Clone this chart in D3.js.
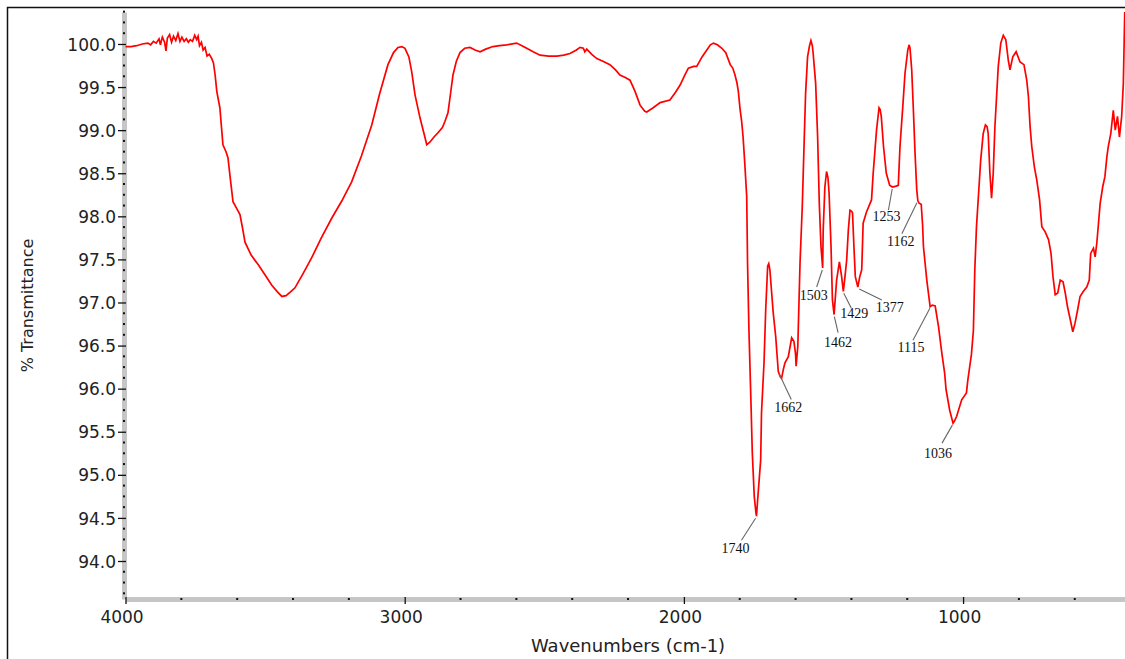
<!DOCTYPE html>
<html>
<head>
<meta charset="utf-8">
<script src="https://cdn.jsdelivr.net/npm/d3@7"></script>
<style>
  html, body { margin: 0; padding: 0; background: #fff; overflow: hidden; }
  svg { display: block; }
  .tick-label { font-family: "DejaVu Sans", sans-serif; font-size: 17px; fill: #222; }
  .axis-title { font-family: "DejaVu Sans", sans-serif; fill: #222; }
  .peak-label { font-family: "Liberation Serif", serif; font-size: 14px; fill: #111; }
</style>
</head>
<body>
<div id="chart"></div>
<script>

// spectrum (cm-1 , %T)
const wavenumbers = [
  4000, 3980, 3960, 3940, 3920, 3910, 3900, 3890, 3880, 3875, 3868, 3860, 3855, 3850, 3842, 3835,
  3828, 3820, 3812, 3805, 3798, 3790, 3782, 3775, 3768, 3760, 3752, 3745, 3740, 3735, 3728, 3722,
  3715, 3708, 3700, 3691, 3685, 3679, 3673, 3662, 3651, 3640, 3633, 3625, 3615, 3600, 3590, 3580,
  3572, 3550, 3525, 3500, 3476, 3455, 3440, 3425, 3410, 3393, 3365, 3333, 3300, 3261, 3225, 3190,
  3155, 3118, 3090, 3060, 3040, 3024, 3010, 2999, 2985, 2975, 2963, 2945, 2930, 2921, 2910, 2895,
  2881, 2865, 2856, 2845, 2838, 2827, 2815, 2802, 2785, 2766, 2748, 2730, 2710, 2684, 2660, 2635,
  2599, 2580, 2563, 2540, 2515, 2485, 2455, 2430, 2408, 2385, 2372, 2360, 2355, 2348, 2330, 2312,
  2290, 2265, 2245, 2229, 2210, 2193, 2175, 2157, 2140, 2133, 2110, 2085, 2050, 2030, 2014, 1995,
  1984, 1965, 1954, 1935, 1918, 1905, 1894, 1880, 1864, 1850, 1834, 1825, 1817, 1810, 1805, 1799,
  1793, 1788, 1782, 1775, 1772, 1767, 1760, 1755, 1748, 1742, 1740, 1736, 1733, 1725, 1722, 1713,
  1707, 1700, 1696, 1692, 1680, 1671, 1662, 1655, 1650, 1644, 1638, 1626, 1614, 1606, 1600, 1598,
  1592, 1584, 1576, 1569, 1564, 1557, 1550, 1545, 1540, 1537, 1528, 1521, 1515, 1509, 1503, 1501,
  1495, 1489, 1484, 1480, 1473, 1468, 1462, 1460, 1453, 1443, 1435, 1429, 1423, 1417, 1411, 1405,
  1400, 1396, 1391, 1386, 1377, 1370, 1363, 1358, 1346, 1328, 1322, 1310, 1301, 1297, 1293, 1285,
  1275, 1263, 1253, 1240, 1232, 1226, 1216, 1208, 1198, 1193, 1190, 1184, 1178, 1172, 1166, 1162,
  1157, 1150, 1145, 1142, 1130, 1118, 1110, 1100, 1088, 1076, 1066, 1061, 1048, 1036, 1030, 1023,
  1005, 988, 983, 970, 963, 958, 952, 943, 937, 928, 920, 914, 910, 904, 898, 892,
  886, 880, 874, 865, 856, 847, 838, 832, 822, 810, 796, 782, 772, 766, 760, 754,
  745, 736, 726, 718, 706, 694, 685, 678, 670, 661, 652, 642, 634, 626, 616, 607,
  599, 590, 581, 569, 557, 548, 543, 533, 527, 521, 515, 509, 500, 492, 485, 480,
  471, 462, 455, 447, 440, 432, 426, 422, 421
];

const transmittance = [
  99.97, 99.97, 99.98, 100.00, 100.01, 99.99, 100.03, 100.01, 100.06, 99.99, 100.08, 100.02, 99.92, 100.07, 100.11, 100.02,
  100.09, 100.04, 100.12, 100.03, 100.08, 100.03, 100.06, 100.02, 100.05, 100.03, 100.10, 100.05, 100.09, 99.98, 100.02, 99.93,
  99.96, 99.86, 99.88, 99.83, 99.78, 99.64, 99.45, 99.26, 98.83, 98.75, 98.68, 98.45, 98.17, 98.08, 98.02, 97.85,
  97.70, 97.55, 97.44, 97.32, 97.20, 97.12, 97.07, 97.08, 97.12, 97.17, 97.33, 97.52, 97.74, 97.98, 98.18, 98.40,
  98.70, 99.06, 99.42, 99.76, 99.90, 99.96, 99.97, 99.95, 99.85, 99.68, 99.41, 99.14, 98.95, 98.83, 98.86, 98.92,
  98.97, 99.03, 99.10, 99.20, 99.37, 99.64, 99.80, 99.90, 99.95, 99.96, 99.93, 99.91, 99.94, 99.97, 99.98, 99.99,
  100.01, 99.98, 99.95, 99.91, 99.87, 99.86, 99.86, 99.87, 99.89, 99.93, 99.96, 99.95, 99.91, 99.94, 99.88, 99.83,
  99.80, 99.76, 99.70, 99.64, 99.61, 99.58, 99.45, 99.29, 99.22, 99.21, 99.26, 99.32, 99.35, 99.44, 99.52, 99.65,
  99.72, 99.74, 99.74, 99.85, 99.93, 99.99, 100.01, 99.99, 99.95, 99.90, 99.76, 99.72, 99.64, 99.55, 99.45, 99.25,
  99.10, 98.92, 98.62, 98.23, 97.46, 96.68, 95.87, 95.26, 94.75, 94.56, 94.52, 94.70, 94.83, 95.17, 95.72, 96.30,
  96.91, 97.42, 97.45, 97.38, 96.88, 96.60, 96.20, 96.14, 96.12, 96.22, 96.30, 96.37, 96.59, 96.55, 96.40, 96.26,
  96.49, 97.46, 98.11, 98.89, 99.43, 99.85, 99.98, 100.04, 99.98, 99.89, 99.54, 98.92, 98.15, 97.65, 97.40, 97.84,
  98.34, 98.52, 98.45, 98.27, 97.65, 97.03, 96.86, 96.95, 97.26, 97.47, 97.30, 97.13, 97.30, 97.49, 97.84, 98.07,
  98.06, 98.04, 97.65, 97.30, 97.18, 97.30, 97.38, 97.92, 98.05, 98.19, 98.50, 99.00, 99.26, 99.24, 99.16, 98.81,
  98.50, 98.36, 98.34, 98.35, 98.36, 98.81, 99.27, 99.66, 99.93, 99.99, 99.95, 99.70, 99.23, 98.73, 98.31, 98.18,
  98.15, 98.14, 97.90, 97.65, 97.26, 96.95, 96.97, 96.96, 96.72, 96.41, 96.18, 95.99, 95.75, 95.60, 95.63, 95.68,
  95.87, 95.95, 96.10, 96.40, 96.68, 97.38, 97.88, 98.34, 98.65, 98.96, 99.06, 99.04, 98.96, 98.50, 98.21, 98.50,
  99.04, 99.39, 99.74, 100.01, 100.10, 100.05, 99.81, 99.70, 99.85, 99.91, 99.79, 99.76, 99.58, 99.39, 99.04, 98.81,
  98.58, 98.42, 98.19, 97.88, 97.82, 97.73, 97.57, 97.30, 97.09, 97.11, 97.26, 97.24, 97.11, 96.95, 96.80, 96.66,
  96.76, 96.91, 97.07, 97.13, 97.18, 97.26, 97.57, 97.63, 97.53, 97.69, 97.92, 98.15, 98.34, 98.46, 98.69, 98.81,
  98.96, 99.23, 99.00, 99.16, 98.92, 99.16, 99.54, 100.20, 100.37
];

const peakLabels = [1740, 1662, 1503, 1462, 1429, 1377, 1253, 1162, 1115, 1036];

const xMajorTicks = [4000, 3000, 2000, 1000];
const yMajorTicks = [94.0, 94.5, 95.0, 95.5, 96.0, 96.5, 97.0, 97.5, 98.0, 98.5, 99.0, 99.5, 100.0];

const xTitle = 'Wavenumbers (cm-1)';
const yTitle = '% Transmittance';

// -------------------------------------------------------------------

const W = 1125, H = 659;
const plot = {l: 125.5, r: 1130.6, t: 12, b: 599};
const axisY0 = 124; // centre of the grey y band

// where each peak label sits relative to its peak (line end, text)
const labelLayout = {
  1740: {lx: -15, ly: 24, tx: -21, ty: 37},
  1662: {lx: 13, ly: 28, tx: 10, ty: 41},
  1503: {lx: -6, ly: 19, tx: -9, ty: 32},
  1462: {lx: 4, ly: 18, tx: 4, ty: 32},
  1429: {lx: 8, ly: 17, tx: 11, ty: 27},
  1377: {lx: 24, ly: 13, tx: 32, ty: 25},
  1253: {lx: -4, ly: 23, tx: -6, ty: 34},
  1162: {lx: -16, ly: 33, tx: -17, ty: 45},
  1115: {lx: -18, ly: 34, tx: -20, ty: 46},
  1036: {lx: -11, ly: 20, tx: -15, ty: 35}
};

const data = wavenumbers.map((w, i) => ({wn: w, t: transmittance[i]}));

const svg = d3.select('#chart').append('svg')
  .attr('width', W)
  .attr('height', H);

svg.append('rect')
  .attr('width', W).attr('height', H)
  .attr('fill', '#fff');

// outer frame (runs off the right and bottom of the window)
svg.append('rect')
  .attr('x', 7.5).attr('y', 7.5)
  .attr('width', W + 20).attr('height', H + 20)
  .attr('fill', 'none')
  .attr('stroke', '#111')
  .attr('stroke-width', 1.5);

const scaleX = d3.scaleLinear().domain([4000, 400]).range([plot.l, plot.r]);
const scaleY = d3.scaleLinear().domain([93.559, 100.371]).range([plot.b, plot.t]);

const xMinor = d3.range(4000, 399, -200).filter(d => xMajorTicks.indexOf(d) < 0);
const yMinor = d3.range(93.625, 100.38, 0.125).filter(d => Math.abs(d * 2 - Math.round(d * 2)) > 1e-6);

////////////////////////////////////////////////////////////////////

const axisYNode = svg.append('g')
  .attr('class', 'axis axis-y')
  .attr('transform', `translate(${axisY0},0)`)
  .call(d3.axisLeft(scaleY)
    .tickValues(yMajorTicks)
    .tickSize(6)
    .tickSizeOuter(0)
    .tickFormat(d3.format('.1f')));

axisYNode.select('.domain')
  .attr('stroke', '#c6c6c6')
  .attr('stroke-width', 5);
axisYNode.selectAll('.tick line')
  .attr('x1', 2)
  .attr('stroke', '#111')
  .attr('stroke-width', 1.3);
axisYNode.selectAll('.tick text')
  .attr('class', 'tick-label')
  .attr('x', -8)
  .attr('dy', '0.36em')
  .attr('font-family', null)
  .attr('font-size', null);
axisYNode.attr('font-family', null).attr('font-size', null);

axisYNode.selectAll('.minor')
  .data(yMinor)
  .enter().append('rect')
  .attr('class', 'minor')
  .attr('x', -1)
  .attr('y', d => scaleY(d) - 1)
  .attr('width', 2)
  .attr('height', 2)
  .attr('fill', '#111');

////////////////////////////////////////////////////////////////////

const axisXNode = svg.append('g')
  .attr('class', 'axis axis-x')
  .attr('transform', `translate(0,${plot.b})`)
  .call(d3.axisBottom(scaleX)
    .tickValues(xMajorTicks)
    .tickSize(5)
    .tickSizeOuter(0)
    .tickFormat(d3.format('d')));

axisXNode.select('.domain')
  .attr('stroke', '#c6c6c6')
  .attr('stroke-width', 5);
axisXNode.selectAll('.tick line')
  .attr('y1', -2)
  .attr('stroke', '#111')
  .attr('stroke-width', 1.3);
axisXNode.selectAll('.tick text')
  .attr('class', 'tick-label')
  .attr('x', -4)
  .attr('y', 23.5)
  .attr('dy', 0);
axisXNode.attr('font-family', null).attr('font-size', null);

axisXNode.selectAll('.minor')
  .data(xMinor)
  .enter().append('rect')
  .attr('class', 'minor')
  .attr('x', d => scaleX(d) - 1)
  .attr('y', -1)
  .attr('width', 2)
  .attr('height', 2)
  .attr('fill', '#111');

////////////////////////////////////////////////////////////////////

svg.append('text')
  .attr('class', 'axis-title')
  .attr('x', (plot.l + plot.r) / 2)
  .attr('y', 651.5)
  .attr('text-anchor', 'middle')
  .attr('font-size', 18)
  .text(xTitle);

svg.append('text')
  .attr('class', 'axis-title')
  .attr('transform', `translate(27,${(plot.t + plot.b) / 2}) rotate(-90)`)
  .attr('text-anchor', 'middle')
  .attr('dy', '0.35em')
  .attr('font-size', 16)
  .text(yTitle);

////////////////////////////////////////////////////////////////////

const line = d3.line()
  .x(d => scaleX(d.wn))
  .y(d => scaleY(d.t));

svg.append('path')
  .datum(data)
  .attr('class', 'spectrum')
  .attr('fill', 'none')
  .attr('stroke', '#ff0000')
  .attr('stroke-width', 1.7)
  .attr('stroke-linejoin', 'miter')
  .attr('d', line);

////////////////////////////////////////////////////////////////////

// %T at a wavenumber, from the trace itself
function valueAt(wn) {
  const i = data.findIndex(d => d.wn <= wn);
  const a = data[i - 1], b = data[i];
  if (!a) return b.t;
  const k = (a.wn - wn) / (a.wn - b.wn);
  return a.t + (b.t - a.t) * k;
}

const peaks = svg.selectAll('.peak')
  .data(peakLabels)
  .enter().append('g')
  .attr('class', 'peak')
  .attr('transform', d => `translate(${scaleX(d)},${scaleY(valueAt(d))})`);

peaks.append('line')
  .attr('x1', d => labelLayout[d].lx * 0.06)
  .attr('y1', 2)
  .attr('x2', d => labelLayout[d].lx)
  .attr('y2', d => labelLayout[d].ly)
  .attr('stroke', '#666')
  .attr('stroke-width', 1.1);

peaks.append('text')
  .attr('class', 'peak-label')
  .attr('x', d => labelLayout[d].tx)
  .attr('y', d => labelLayout[d].ty)
  .attr('text-anchor', 'middle')
  .text(d => d);

</script>
</body>
</html>
